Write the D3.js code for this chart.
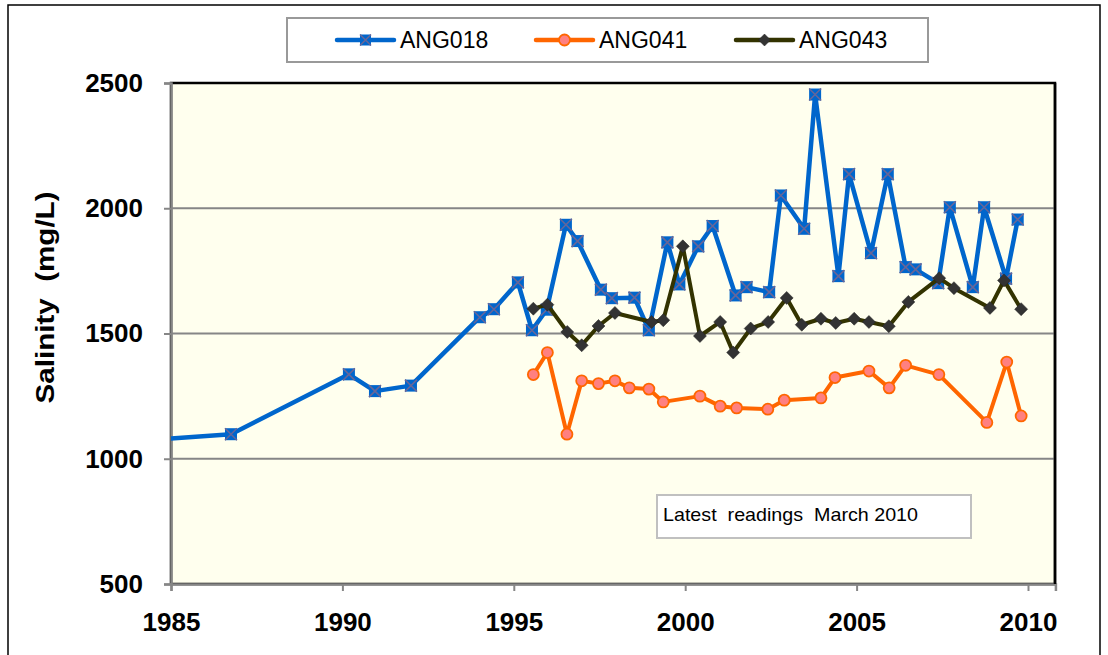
<!DOCTYPE html>
<html>
<head>
<meta charset="utf-8">
<script src="https://cdn.jsdelivr.net/npm/d3@7"></script>
<style>
  html, body { margin: 0; padding: 0; background: #ffffff; }
  svg { display: block; font-family: "Liberation Sans", Arial, sans-serif; }
</style>
</head>
<body>
<svg id="chart" width="1108" height="655"></svg>
<script>
// ---------- data ----------
const seriesNames = ["ANG018", "ANG041", "ANG043"];

const ang018Years = [1983.5, 1986.75, 1990.19, 1990.95, 1992.0, 1994.01, 1994.42, 1995.12, 1995.53, 1995.96,
  1996.52, 1996.86, 1997.54, 1997.86, 1998.52, 1998.94, 1999.48, 1999.83, 2000.38, 2000.80,
  2001.47, 2001.79, 2002.45, 2002.79, 2003.47, 2003.79, 2004.47, 2004.78, 2005.42, 2005.91,
  2006.43, 2006.72, 2007.38, 2007.72, 2008.39, 2008.72, 2009.36, 2009.70];
const ang018Values = [1067, 1098, 1337, 1270, 1292, 1565, 1597, 1704, 1513, 1595,
  1934, 1869, 1675, 1641, 1643, 1513, 1864, 1696, 1848, 1929,
  1652, 1685, 1665, 2051, 1918, 2454, 1729, 2136, 1821, 2136,
  1765, 1756, 1701, 2004, 1685, 2004, 1719, 1955];

const ang041Years = [1995.57, 1995.98, 1996.55, 1996.98, 1997.47, 1997.95, 1998.37, 1998.94, 1999.36, 2000.43,
  2001.02, 2001.50, 2002.41, 2002.89, 2003.96, 2004.37, 2005.36, 2005.95, 2006.43, 2007.40,
  2008.80, 2009.38, 2009.80];
const ang041Values = [1336, 1424, 1098, 1311, 1300, 1311, 1283, 1278, 1227, 1250,
  1210, 1203, 1198, 1234, 1243, 1324, 1350, 1283, 1373, 1336,
  1145, 1386, 1171];

const ang043Years = [1995.57, 1995.98, 1996.56, 1996.98, 1997.47, 1997.95, 1999.02, 1999.36, 1999.93, 2000.43,
  2001.02, 2001.40, 2001.91, 2002.42, 2002.96, 2003.40, 2003.96, 2004.39, 2004.93, 2005.36,
  2005.94, 2006.51, 2007.41, 2007.84, 2008.89, 2009.30, 2009.80];
const ang043Values = [1599, 1615, 1506, 1453, 1530, 1582, 1546, 1553, 1848, 1490,
  1546, 1424, 1520, 1546, 1642, 1535, 1559, 1542, 1559, 1546,
  1529, 1626, 1721, 1681, 1602, 1712, 1597];

const xTicks = [1985, 1990, 1995, 2000, 2005, 2010];
const yTicks = [500, 1000, 1500, 2000, 2500];
const xDomain = [1985, 2010.8];
const yDomain = [500, 2500];
const yTitle = "Salinity\u00a0\u00a0(mg/L)";
const noteText = "Latest\u00a0\u00a0readings\u00a0\u00a0March 2010";

// ---------- layout ----------
const svg = d3.select("#chart");
const plot = { left: 171, right: 1055, top: 83, bottom: 584 };

// 1985..2010 maps to 171..1028
const x = d3.scaleLinear().domain(xDomain)
  .range([plot.left, plot.left + (1028 - 171) * (xDomain[1] - xDomain[0]) / (2010 - 1985)]);
const y = d3.scaleLinear().domain(yDomain).range([plot.bottom, plot.top]);

// outer border
svg.append("rect").attr("x", 8).attr("y", 5).attr("width", 1092).attr("height", 660)
  .attr("fill", "#ffffff").attr("stroke", "#000000").attr("stroke-width", 1.5);

// plot area
svg.append("rect").attr("x", plot.left).attr("y", plot.top)
  .attr("width", plot.right - plot.left).attr("height", plot.bottom - plot.top)
  .attr("fill", "#FFFFEE").attr("stroke", "#000000").attr("stroke-width", 2.5);

// gridlines
svg.append("g").selectAll("line").data(yTicks.filter(d => d > yDomain[0] && d < yDomain[1]))
  .join("line")
  .attr("x1", plot.left).attr("x2", plot.right)
  .attr("y1", d => y(d)).attr("y2", d => y(d))
  .attr("stroke", "#868686").attr("stroke-width", 2);

// y axis
const yAxis = svg.append("g").attr("transform", `translate(${plot.left},0)`)
  .call(d3.axisLeft(y).tickValues(yTicks).tickSize(7).tickPadding(21).tickFormat(d3.format("d")));
yAxis.select(".domain").attr("stroke", "#868686").attr("stroke-width", 2.5);
yAxis.selectAll(".tick line").attr("stroke", "#868686").attr("stroke-width", 2);
yAxis.selectAll(".tick text")
  .attr("font-family", "'Liberation Sans', Arial, sans-serif")
  .attr("font-size", 26).attr("font-weight", "bold").attr("fill", "#000");

// x axis
const xAxis = svg.append("g").attr("transform", `translate(0,${plot.bottom})`)
  .call(d3.axisBottom(x).tickValues(xTicks).tickSize(7).tickPadding(22).tickFormat(d3.format("d")));
xAxis.select(".domain").attr("stroke", "#868686").attr("stroke-width", 2.5);
xAxis.selectAll(".tick line").attr("stroke", "#868686").attr("stroke-width", 2);
xAxis.selectAll(".tick text")
  .attr("font-family", "'Liberation Sans', Arial, sans-serif")
  .attr("font-size", 26).attr("font-weight", "bold").attr("fill", "#000");

// right border redraw (black) over axis ends
svg.append("line").attr("x1", plot.right).attr("x2", plot.right).attr("y1", plot.top).attr("y2", plot.bottom)
  .attr("stroke", "#000").attr("stroke-width", 2.5);

// y title
svg.append("text")
  .attr("transform", `translate(54,${(plot.top + plot.bottom) / 2 - 36}) rotate(-90)`)
  .attr("text-anchor", "middle")
  .attr("font-size", 26).attr("font-weight", "bold").attr("fill", "#000")
  .attr("textLength", 212).attr("lengthAdjust", "spacingAndGlyphs")
  .text(yTitle);

// clip
svg.append("clipPath").attr("id", "clip").append("rect")
  .attr("x", plot.left).attr("y", plot.top - 20)
  .attr("width", plot.right - plot.left).attr("height", plot.bottom - plot.top + 40);

const data018 = ang018Years.map((d, i) => ({ x: d, y: ang018Values[i] }));
const data041 = ang041Years.map((d, i) => ({ x: d, y: ang041Values[i] }));
const data043 = ang043Years.map((d, i) => ({ x: d, y: ang043Values[i] }));

const line = d3.line().x(d => x(d.x)).y(d => y(d.y));
const g = svg.append("g").attr("clip-path", "url(#clip)");

const blue = "#0066CC", xCol = "#666699";
const orange = "#FF6600", pink = "#FF8080";
const olive = "#333300", dark = "#333333";

function drawSquareX(sel, s) {
  sel.append("rect").attr("x", -s / 2).attr("y", -s / 2).attr("width", s).attr("height", s)
    .attr("fill", blue);
  sel.append("path").attr("d", `M${-s/2},${-s/2}L${s/2},${s/2}M${-s/2},${s/2}L${s/2},${-s/2}`)
    .attr("stroke", xCol).attr("stroke-width", 1.6);
}
function drawCircle(sel, r) {
  sel.append("circle").attr("r", r).attr("fill", pink).attr("stroke", orange).attr("stroke-width", 1.8);
}
function drawDiamond(sel, s) {
  sel.append("path").attr("d", `M0,${-s}L${s},0L0,${s}L${-s},0Z`).attr("fill", dark)
    .attr("stroke", "#222").attr("stroke-width", 0.5);
}

// ANG018
g.append("path").datum(data018).attr("d", line).attr("fill", "none")
  .attr("stroke", blue).attr("stroke-width", 4.5).attr("stroke-linejoin", "round");
g.append("g").selectAll("g").data(data018).join("g")
  .attr("transform", d => `translate(${x(d.x)},${y(d.y)})`)
  .each(function () { drawSquareX(d3.select(this), 12); });

// ANG041
g.append("path").datum(data041).attr("d", line).attr("fill", "none")
  .attr("stroke", orange).attr("stroke-width", 4).attr("stroke-linejoin", "round");
g.append("g").selectAll("g").data(data041).join("g")
  .attr("transform", d => `translate(${x(d.x)},${y(d.y)})`)
  .each(function () { drawCircle(d3.select(this), 5.5); });

// ANG043
g.append("path").datum(data043).attr("d", line).attr("fill", "none")
  .attr("stroke", olive).attr("stroke-width", 4).attr("stroke-linejoin", "round");
g.append("g").selectAll("g").data(data043).join("g")
  .attr("transform", d => `translate(${x(d.x)},${y(d.y)})`)
  .each(function () { drawDiamond(d3.select(this), 6.5); });

// note box
svg.append("rect").attr("x", 657).attr("y", 495).attr("width", 314).attr("height", 43)
  .attr("fill", "#ffffff").attr("stroke", "#c0c0c0").attr("stroke-width", 2);
svg.append("text").attr("x", 663).attr("y", 521).attr("font-size", 19).attr("fill", "#000")
  .attr("textLength", 255).attr("lengthAdjust", "spacingAndGlyphs")
  .text(noteText);

// legend
const legend = svg.append("g");
legend.append("rect").attr("x", 287).attr("y", 18).attr("width", 641).attr("height", 44)
  .attr("fill", "#ffffff").attr("stroke", "#999999").attr("stroke-width", 2);
const legendX = [337, 536, 736];
const legendColors = [blue, orange, olive];
const legendMarkers = [s => drawSquareX(s, 11), s => drawCircle(s, 5.5), s => drawDiamond(s, 6)];
seriesNames.forEach((name, i) => {
  const lg = legend.append("g").attr("transform", `translate(${legendX[i]},40)`);
  lg.append("line").attr("x1", 0).attr("x2", 57).attr("y1", 0).attr("y2", 0)
    .attr("stroke", legendColors[i]).attr("stroke-width", 4.5).attr("stroke-linecap", "round");
  const m = lg.append("g").attr("transform", "translate(28.5,0)");
  legendMarkers[i](m);
  lg.append("text").attr("x", 63).attr("y", 8).attr("font-size", 23).attr("fill", "#000")
    .text(name);
});
</script>
</body>
</html>
